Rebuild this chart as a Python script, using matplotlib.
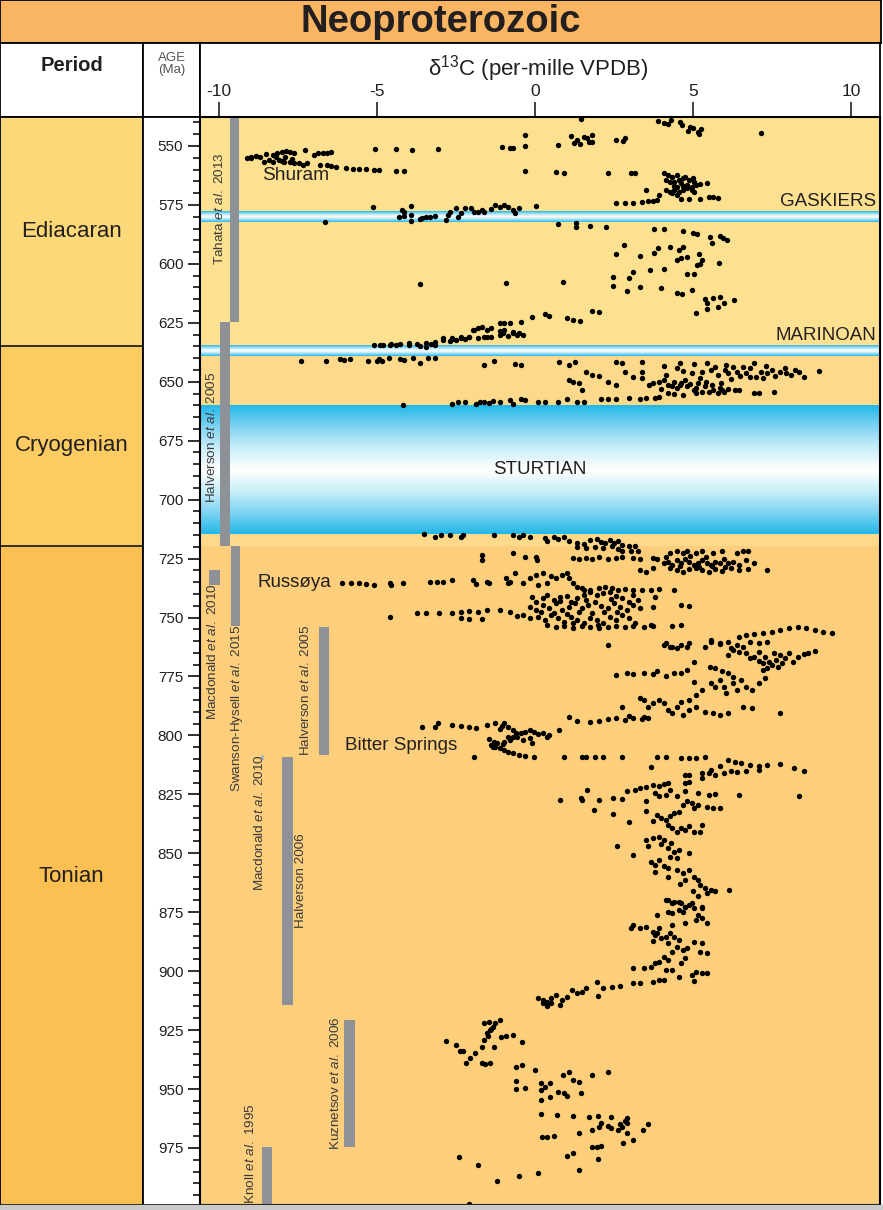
import numpy as np
import matplotlib
matplotlib.use('Agg')
import matplotlib.pyplot as plt
from matplotlib.colors import LinearSegmentedColormap
from matplotlib.patches import Rectangle

plt.rcParams['font.family'] = ['Liberation Sans', 'DejaVu Sans']
plt.rcParams['mathtext.fontset'] = 'custom'
plt.rcParams['mathtext.rm'] = 'Liberation Sans'
plt.rcParams['mathtext.it'] = 'Liberation Sans:italic'

# ---- data: (d13C per-mille, age Ma) ----
edi_top = [(1.46, 538.7), (3.9, 539.5), (4.1, 540.3), (4.3, 539.0), (4.2, 540.6), (4.6, 540.0), (4.65, 541.0),
           (4.9, 541.8), (5.0, 542.5), (4.85, 543.5), (5.15, 543.9), (5.25, 543.0), (5.2, 544.9), (7.15, 544.4),
           (-0.3, 545.3), (-0.3, 550.0), (-1.05, 550.5), (-0.8, 550.8), (-0.7, 550.8), (0.74, 549.6), (1.13, 545.6),
           (1.34, 547.5), (1.54, 546.2), (1.43, 549.3), (1.23, 548.9), (1.71, 548.2), (1.8, 545.3), (1.65, 546.8),
           (1.8, 548.2), (2.55, 547.5), (2.8, 547.7), (2.85, 546.6)]
shuram = [(-9.11, 554.9), (-8.98, 554.5), (-8.84, 554.2), (-8.7, 554.5), (-8.57, 556.6), (-8.43, 555.9),
          (-8.29, 556.6), (-8.16, 553.1), (-8.02, 552.4), (-7.88, 552.0), (-7.75, 552.4), (-7.61, 553.1),
          (-8.11, 555.9), (-7.95, 556.6), (-7.75, 556.6), (-7.61, 557.3), (-7.47, 557.3), (-7.34, 558.1),
          (-7.2, 557.3), (-7.27, 551.7), (-7.0, 553.8), (-6.86, 553.1), (-6.72, 552.8), (-6.58, 552.8),
          (-6.45, 552.4), (-6.79, 558.1), (-6.58, 558.1), (-6.45, 558.5), (-6.31, 558.8), (-5.97, 559.5),
          (-5.77, 559.9), (-5.56, 559.9), (-5.36, 559.9), (-5.08, 560.2), (-4.95, 560.2), (-5.05, 551.4),
          (-4.4, 551.4), (-3.9, 551.7), (-3.06, 551.4), (-4.4, 560.5), (-4.13, 560.5), (-9.0, 555.2),
          (-8.5, 553.5), (-8.3, 553.9), (-7.9, 554.8), (-8.0, 556.2), (-8.2, 554.6), (-7.7, 555.5)]
edi_mid = [(-0.3, 560.6), (0.66, 561.0), (0.93, 561.3), (2.3, 561.3), (3.05, 561.6), (3.16, 561.6),
           (4.07, 561.6), (4.21, 562.3), (4.34, 563.0), (4.48, 562.3), (4.55, 564.4), (4.69, 563.7), (4.75, 563.0),
           (4.89, 564.4), (5.03, 565.1), (4.14, 564.4), (4.28, 565.1), (4.41, 565.1), (4.62, 565.8), (4.82, 566.5),
           (4.96, 567.2), (5.1, 566.5), (5.23, 566.1), (5.44, 565.5), (4.14, 568.7), (4.28, 569.4), (4.41, 568.7),
           (4.55, 569.4), (4.69, 568.7), (4.82, 567.9), (4.96, 568.7), (5.03, 569.4), (3.93, 570.8), (4.34, 570.1),
           (4.48, 570.8), (4.62, 572.6), (4.89, 572.6), (5.23, 572.6), (5.51, 571.5), (5.64, 571.8), (5.78, 572.2),
           (3.5, 568.7), (3.73, 573.2), (3.87, 572.9), (3.59, 573.2), (3.39, 573.6), (3.11, 574.3), (2.84, 574.3),
           (2.57, 574.3), (4.4, 566.8), (4.7, 567.0), (5.0, 563.5), (4.5, 567.5)]
gaskiers_pts = [(-5.12, 575.7), (-4.22, 577.1), (-4.15, 577.8), (-3.92, 575.4), (-4.29, 580.2), (-4.13, 579.7),
                (-3.92, 579.3), (-3.92, 581.8), (-3.65, 581.1), (-3.58, 580.7), (-3.44, 580.2), (-3.31, 580.0),
                (-3.17, 579.7), (-2.83, 581.4), (-2.76, 579.3), (-2.69, 577.8), (-2.49, 576.4), (-2.42, 580.0),
                (-2.35, 578.5), (-2.21, 576.4), (-2.01, 576.4), (-1.94, 577.8), (-1.8, 577.8), (-1.69, 577.1),
                (-1.6, 577.8), (-1.39, 576.9), (-1.26, 575.0), (-1.12, 575.7), (-0.98, 575.0), (-0.85, 575.7),
                (-0.71, 577.1), (-0.64, 578.5), (-0.51, 576.4), (0.04, 575.4), (-6.65, 582.4)]
edi_low = [(0.72, 583.2), (1.31, 582.5), (1.31, 584.5), (1.75, 583.8), (2.24, 584.2), (3.77, 585.3), (4.1, 585.1),
           (4.69, 585.9), (5.0, 586.7), (5.14, 587.3), (5.55, 588.4), (5.85, 588.2), (5.96, 588.9), (6.09, 589.9),
           (5.6, 591.3), (2.81, 592.1), (2.57, 595.8), (3.32, 596.5), (3.77, 595.2), (3.91, 593.4), (4.28, 592.7),
           (4.55, 594.1), (4.48, 598.3), (4.62, 597.6), (4.82, 596.9), (5.14, 600.5), (5.23, 600.0), (5.82, 599.5),
           (3.11, 603.3), (2.98, 606.1), (3.63, 602.6), (4.07, 602.3), (4.82, 604.4), (5.03, 604.4), (2.46, 605.7),
           (2.46, 609.2), (2.91, 611.5), (3.32, 609.6), (4.0, 610.4), (4.48, 612.2), (4.64, 612.9), (4.96, 611.1),
           (5.37, 615.0), (5.44, 616.7), (5.64, 614.6), (5.85, 613.9), (5.98, 616.4), (6.3, 615.3), (5.1, 620.7),
           (5.44, 619.3), (5.78, 618.1), (-0.92, 608.2), (0.9, 607.5), (-3.63, 608.7), (4.7, 593.0), (5.2, 596.0),
           (5.3, 598.5)]
pre_marinoan = [(-0.1, 622.7), (0.31, 621.2), (0.45, 622.1), (1.0, 623.1), (1.2, 623.8), (1.43, 624.2),
                (1.82, 620.0), (2.02, 620.5), (-1.97, 628.0), (-1.8, 627.3), (-1.67, 626.6), (-1.53, 628.0),
                (-1.39, 627.3), (-1.12, 625.2), (-0.98, 625.2), (-0.78, 624.9), (-0.44, 624.5), (-0.98, 628.0),
                (-0.71, 628.7), (-0.51, 629.4), (-0.37, 630.1), (-2.9, 631.6), (-2.62, 631.3), (-2.35, 631.1),
                (-2.08, 630.9), (-1.8, 631.3), (-1.6, 630.9), (-1.39, 630.9), (-1.12, 630.1), (-0.85, 630.6),
                (-5.08, 634.4), (-4.81, 634.4), (-4.54, 634.0), (-4.26, 634.0), (-3.99, 633.7), (-3.72, 634.0),
                (-3.44, 633.4), (-3.17, 633.0), (-2.9, 632.3), (-2.62, 632.0), (-2.35, 631.6), (-2.08, 631.1),
                (-1.53, 630.9), (-0.57, 630.1), (-1.94, 628.0), (-1.12, 628.3), (-3.65, 634.8), (-3.44, 635.1),
                (-3.17, 634.4), (-4.9, 634.6), (-4.6, 634.5), (-4.4, 634.3), (-4.0, 634.2), (-3.3, 633.8),
                (-2.7, 632.8), (-2.5, 632.5), (-2.2, 631.9), (-1.0, 629.5), (-0.7, 629.2)]
cryo_row = [(-7.4, 641.4), (-6.6, 641.4), (-6.17, 640.4), (-6.04, 640.7), (-5.86, 640.3), (-5.29, 641.0),
            (-5.01, 641.4), (-4.95, 640.4), (-4.84, 641.4), (-4.63, 640.0), (-4.26, 640.4), (-4.13, 640.7),
            (-3.85, 640.0), (-3.65, 642.1), (-3.37, 640.0), (-3.17, 640.0), (-1.6, 642.8), (-1.28, 641.4),
            (-0.64, 642.6), (-0.44, 642.7), (0.77, 641.7), (1.07, 643.0), (1.28, 641.6), (2.57, 641.7),
            (2.77, 642.1), (3.39, 641.7), (4.1, 643.3), (4.59, 642.1), (5.03, 642.4), (5.44, 642.1)]
cryo_cluster = [(1.61, 645.7), (1.82, 647.1), (2.02, 647.5), (2.3, 649.9), (2.57, 651.3), (2.84, 645.7),
                (3.39, 645.7), (3.39, 648.5), (3.73, 650.6), (3.93, 649.9), (4.07, 649.2), (4.14, 647.1),
                (4.21, 651.3), (4.34, 652.0), (4.48, 644.3), (4.48, 652.8), (4.62, 650.6), (4.75, 649.2),
                (4.82, 652.0), (4.96, 646.4), (5.03, 653.5), (5.16, 650.6), (5.23, 648.5), (5.37, 652.0),
                (5.51, 654.2), (5.57, 645.0), (5.71, 643.6), (5.78, 647.1), (5.85, 652.8), (5.98, 654.2),
                (6.05, 642.8), (6.12, 646.4), (6.26, 643.6), (6.39, 645.7), (6.46, 653.5), (6.6, 643.6),
                (6.67, 646.4), (6.8, 644.3), (6.94, 642.1), (7.01, 647.8), (7.14, 645.7), (7.21, 648.5),
                (7.35, 646.4), (7.49, 645.0), (7.76, 645.7), (7.96, 646.1), (8.24, 645.0), (8.37, 645.7),
                (8.51, 647.8), (8.99, 645.3), (6.94, 654.9), (7.08, 654.6), (7.55, 654.2), (5.1, 654.9),
                (5.3, 654.2), (5.64, 653.5), (5.78, 654.9), (5.92, 653.7), (6.12, 653.2), (6.33, 653.5),
                (4.69, 655.6), (4.41, 655.2), (4.21, 654.9), (3.93, 656.3), (3.8, 657.0), (3.52, 657.0),
                (3.32, 657.3), (2.98, 656.7), (2.57, 657.3), (2.3, 657.3), (2.09, 657.3), (1.48, 653.5),
                (1.07, 649.2), (1.2, 649.9), (1.41, 650.6), (4.4, 650.0), (4.6, 651.5), (4.9, 651.0),
                (5.1, 652.5), (5.4, 650.0), (5.6, 651.5), (5.9, 650.5), (6.2, 649.0), (6.5, 647.5),
                (6.8, 648.0), (7.3, 643.5), (7.9, 644.0), (6.0, 645.0), (5.3, 646.0), (4.7, 645.5),
                (3.6, 651.5), (4.0, 653.0), (3.1, 648.0), (8.1, 647.0), (7.6, 647.5)]
cryo_low = [(-4.19, 659.8), (-2.62, 659.4), (-2.42, 658.8), (-2.21, 658.4), (-1.87, 659.4), (-1.73, 658.8),
            (-1.6, 658.4), (-1.46, 659.1), (-1.33, 658.0), (-1.12, 658.4), (-0.78, 657.7), (-0.71, 659.4),
            (-0.44, 657.4), (-0.3, 657.7), (0.11, 658.8), (0.31, 658.8), (0.72, 658.8), (1.0, 657.4),
            (1.34, 658.4), (1.54, 658.4)]
ton_top = [(-3.51, 714.5), (-3.17, 716.0), (-2.96, 715.0), (-2.69, 715.0), (-2.35, 716.0), (-2.28, 715.0),
           (-1.28, 715.0), (-0.71, 715.0), (-0.51, 716.0), (-0.37, 715.0), (-0.16, 716.0), (0.31, 716.4),
           (0.38, 717.4), (0.59, 715.7), (0.72, 716.8), (0.93, 715.7), (1.07, 717.4), (1.34, 718.2),
           (1.54, 718.8), (1.75, 717.1), (1.95, 716.8), (2.09, 717.8), (2.23, 718.5), (2.36, 717.1),
           (2.5, 718.2), (2.64, 717.4), (2.77, 719.2), (2.98, 719.6), (3.18, 719.6), (1.34, 719.9),
           (1.61, 720.6), (1.89, 719.9), (2.16, 720.6), (2.43, 719.6), (2.64, 721.0), (2.77, 722.0),
           (3.05, 722.0), (3.25, 721.6), (-1.69, 723.5), (-1.69, 725.6), (-0.71, 722.7), (-0.3, 724.4),
           (0.04, 724.2), (0.08, 725.6), (1.2, 724.9), (1.41, 725.3), (1.61, 724.9), (1.82, 725.3),
           (2.02, 724.4), (2.3, 725.3), (2.57, 724.9), (2.77, 724.4), (3.11, 724.9), (3.32, 725.3),
           (3.73, 724.9), (3.87, 725.3)]
ton_725 = [(4.14, 724.2), (4.28, 722.7), (4.48, 722.0), (4.69, 722.7), (4.82, 721.6), (5.1, 722.7),
           (5.3, 722.0), (5.64, 722.7), (5.92, 722.0), (6.39, 722.5), (6.6, 721.6), (6.73, 722.0),
           (4.07, 727.0), (4.21, 726.3), (4.34, 727.7), (4.48, 725.6), (4.62, 726.7), (4.75, 725.3),
           (4.89, 726.3), (5.03, 727.7), (5.16, 727.0), (5.3, 725.6), (5.44, 726.7), (5.57, 727.7),
           (5.71, 726.3), (5.85, 727.0), (5.98, 725.3), (6.12, 727.0), (6.26, 726.3), (6.46, 727.7),
           (6.67, 725.6), (6.94, 726.7), (4.28, 729.1), (4.48, 729.8), (4.69, 730.5), (4.89, 729.5),
           (5.1, 729.1), (5.3, 729.8), (5.51, 730.5), (5.71, 729.5), (5.92, 730.1), (6.19, 729.1),
           (6.46, 729.8), (6.73, 729.5), (7.35, 729.8), (3.32, 729.8), (3.52, 730.5), (3.73, 729.1),
           (4.6, 728.2), (5.2, 728.5), (5.6, 728.3), (6.0, 728.6), (5.4, 724.5), (4.9, 724.0)]
russoya = [(-6.11, 735.2), (-5.83, 735.5), (-5.56, 735.2), (-5.36, 735.8), (-5.08, 736.2), (-4.6, 735.5),
           (-4.54, 736.2), (-4.19, 735.2), (-3.31, 734.8), (-3.1, 734.8), (-2.9, 734.8), (-2.62, 734.3),
           (-1.97, 734.3), (-1.87, 735.8), (-1.53, 734.8), (-1.46, 735.5), (-0.92, 733.4), (-0.85, 735.5),
           (-0.78, 734.8), (-0.64, 731.2), (-0.37, 735.5), (-0.16, 733.4), (0.04, 732.0), (0.11, 736.2),
           (0.25, 731.2), (0.38, 735.5), (0.52, 732.6), (0.66, 733.4), (0.86, 732.0), (1.0, 731.2),
           (1.07, 733.4), (1.2, 735.5), (1.34, 736.9), (1.48, 737.6), (1.54, 738.3), (1.75, 738.3),
           (2.02, 737.6), (2.23, 736.9), (2.43, 737.6), (2.64, 738.3), (2.84, 738.0), (3.11, 738.3),
           (3.39, 738.3), (3.66, 738.3), (3.93, 738.0), (4.41, 738.3)]
ton_745 = [(-4.6, 749.6), (-3.72, 747.9), (-3.44, 748.2), (-3.03, 748.2), (-2.62, 747.9), (-2.35, 747.5),
           (-2.08, 747.1), (-1.8, 747.5), (-1.53, 746.8), (-1.12, 746.8), (-2.35, 750.3), (-2.08, 750.7),
           (-1.67, 750.7), (-0.1, 741.1), (0.04, 743.3), (0.25, 741.8), (0.38, 740.4), (0.59, 742.5),
           (0.79, 741.4), (1.0, 740.8), (1.13, 743.3), (1.34, 741.8), (1.54, 740.4), (1.75, 739.0),
           (1.95, 740.4), (2.16, 739.7), (2.36, 739.0), (2.57, 740.8), (2.77, 741.8), (2.98, 743.3),
           (3.11, 740.4), (3.25, 742.5), (-0.16, 745.4), (0.04, 746.8), (0.25, 744.7), (0.45, 746.1),
           (0.66, 744.0), (0.86, 746.8), (1.07, 745.7), (1.27, 744.0), (1.48, 746.1), (1.68, 744.7),
           (1.89, 743.3), (2.09, 745.1), (2.3, 746.1), (2.5, 744.0), (2.7, 745.7), (2.91, 746.8),
           (3.11, 744.7), (3.32, 746.1), (-0.37, 748.9), (-0.16, 750.3), (0.11, 749.6), (0.31, 751.0),
           (0.52, 748.9), (0.72, 750.3), (0.93, 751.7), (1.13, 749.6), (1.34, 751.0), (1.54, 752.4),
           (1.75, 750.3), (1.95, 751.0), (2.16, 752.4), (2.36, 749.6), (2.57, 751.0), (2.77, 748.9),
           (2.98, 750.3), (3.18, 752.4), (3.46, 753.9), (3.66, 753.1), (0.38, 753.1), (0.66, 753.9),
           (0.93, 753.6), (1.2, 754.6), (1.48, 753.6), (1.75, 754.1), (2.02, 754.6), (2.3, 753.9),
           (2.57, 753.6), (2.84, 754.1), (3.11, 753.6), (-0.78, 747.5), (-0.57, 749.3), (3.8, 741.4),
           (4.62, 744.6), (4.89, 745.0), (3.73, 745.6), (3.73, 753.6), (4.34, 753.6), (4.62, 753.2),
           (0.2, 747.8), (0.6, 748.0), (1.0, 748.5), (1.4, 747.5), (1.8, 748.2), (2.2, 747.8),
           (2.6, 747.5), (0.8, 743.0), (1.6, 742.5), (2.4, 742.0), (1.2, 752.5), (2.0, 753.0)]
ton_760 = [(4.07, 761.6), (4.28, 762.3), (4.48, 763.0), (4.89, 760.7), (5.57, 759.5), (5.85, 761.2),
           (6.12, 760.2), (6.46, 758.1), (6.67, 757.4), (6.94, 757.0), (7.21, 756.7), (7.49, 756.0),
           (7.76, 755.3), (8.03, 754.6), (8.31, 754.1), (8.58, 754.6), (8.85, 755.3), (9.13, 756.0),
           (9.4, 756.7), (2.3, 761.6), (4.14, 760.9), (4.34, 762.3), (4.62, 761.6), (4.82, 762.6),
           (5.37, 762.3), (5.57, 760.2), (5.85, 760.9), (6.19, 763.0), (6.39, 761.6), (6.6, 762.6),
           (6.8, 760.2), (7.08, 760.9), (7.35, 760.2), (6.12, 765.9), (6.26, 763.7), (6.46, 764.5),
           (6.67, 765.2), (6.8, 767.3), (6.94, 766.6), (7.08, 768.3), (7.21, 769.4), (7.35, 771.5),
           (7.49, 770.1), (7.62, 768.0), (7.76, 765.9), (7.9, 767.3), (8.03, 765.2), (8.17, 768.7),
           (8.31, 766.6), (8.51, 765.4), (8.65, 765.2), (8.85, 764.0), (7.08, 764.5), (7.28, 766.6),
           (7.55, 765.2), (7.83, 769.4), (7.21, 772.2), (7.42, 768.7), (7.69, 770.8)]
ton_780 = [(2.57, 774.4), (2.91, 773.6), (3.11, 773.9), (3.46, 773.6), (3.73, 773.9), (3.87, 772.5),
           (4.14, 774.8), (4.41, 773.4), (4.62, 773.6), (4.82, 772.2), (5.03, 768.7), (5.55, 770.8),
           (5.71, 771.5), (5.92, 772.9), (6.12, 773.6), (6.26, 775.1), (5.85, 776.5), (5.57, 777.9),
           (5.71, 779.3), (5.98, 779.3), (6.26, 777.9), (6.53, 776.5), (6.67, 779.3), (6.87, 780.7),
           (7.08, 777.9), (7.28, 775.8), (6.39, 780.7), (6.05, 782.1), (5.03, 777.2), (5.3, 780.7),
           (5.1, 782.8), (4.89, 785.0), (4.62, 785.7), (4.48, 787.8), (4.21, 789.2), (4.07, 786.4),
           (3.93, 785.0), (3.73, 786.4), (3.59, 787.8), (3.32, 784.3), (3.46, 785.2), (4.89, 789.2),
           (5.1, 787.8), (5.37, 789.9), (5.64, 790.6), (5.85, 791.3), (6.12, 790.6), (6.6, 787.8),
           (6.87, 788.5), (7.76, 790.3), (4.69, 791.3), (4.34, 790.6), (3.46, 792.0), (2.77, 787.8),
           (1.07, 792.0), (1.34, 793.9), (1.75, 794.2), (2.02, 793.7), (2.3, 793.2), (2.57, 792.7),
           (2.84, 793.4), (3.11, 792.7), (3.39, 793.2), (3.59, 792.7), (2.98, 791.7), (0.77, 797.7)]
bitter = [(-3.58, 796.3), (-3.17, 796.6), (-3.06, 794.9), (-2.62, 795.6), (-2.35, 796.0), (-2.08, 796.3),
          (-1.87, 797.0), (-1.53, 795.6), (-1.26, 794.9), (-1.05, 796.0), (-0.85, 796.6), (-0.71, 797.7),
          (-1.12, 797.4), (-0.98, 794.9), (-1.46, 801.6), (-1.39, 804.0), (-1.26, 804.8), (-1.12, 805.5),
          (-0.98, 806.2), (-0.85, 806.9), (-0.71, 807.6), (-0.51, 808.3), (-0.3, 808.7), (-0.03, 809.0),
          (-1.33, 804.8), (-1.19, 803.3), (-0.98, 802.6), (-0.78, 801.9), (-0.57, 800.5), (-0.44, 799.1),
          (-0.3, 798.4), (-0.16, 797.7), (-0.03, 798.4), (0.11, 799.4), (0.25, 799.1), (0.38, 800.5),
          (0.45, 799.8), (-0.16, 801.2), (-0.37, 801.9), (-0.71, 800.5), (-0.85, 800.8), (-0.1, 803.3),
          (-1.94, 809.0), (-1.3, 802.8), (-1.0, 803.8), (-0.6, 799.2)]
ton_810 = [(0.93, 809.0), (1.48, 809.0), (1.61, 809.0), (1.89, 809.0), (2.16, 809.0), (2.77, 809.0),
           (3.87, 809.0), (4.14, 809.0), (4.62, 809.7), (4.89, 809.7), (5.1, 809.7), (5.37, 809.0),
           (3.66, 813.5), (6.12, 810.4), (6.33, 811.1), (6.53, 811.8), (6.8, 812.5), (7.08, 813.2),
           (7.35, 812.5), (7.76, 812.1), (5.85, 813.2), (5.57, 814.7), (5.3, 816.1), (4.89, 816.8),
           (4.75, 816.7), (5.3, 818.1), (5.51, 816.0), (5.71, 816.7), (5.98, 816.0), (6.19, 815.3),
           (6.39, 815.7), (6.67, 815.0), (7.08, 814.6), (8.2, 814.0), (8.5, 815.0), (4.89, 819.6),
           (4.75, 820.3)]
ton_830 = [(0.79, 827.6), (1.45, 826.6), (1.65, 823.1), (1.48, 827.3), (2.02, 827.3), (1.86, 831.6),
           (2.46, 826.6), (2.46, 833.3), (2.77, 827.0), (2.91, 823.8), (3.18, 823.1), (3.32, 822.4),
           (3.52, 821.7), (3.73, 821.0), (3.93, 821.4), (4.07, 820.5), (4.21, 820.3), (3.5, 828.0),
           (3.5, 831.9), (3.8, 824.5), (3.93, 825.9), (4.14, 825.2), (4.28, 823.1), (4.48, 825.9),
           (4.75, 823.4), (5.16, 824.5), (5.51, 825.2), (5.71, 824.8), (6.46, 825.2), (8.37, 825.6),
           (4.69, 829.5), (4.82, 828.0), (4.96, 828.7), (5.03, 830.9), (5.16, 829.5), (5.44, 830.2),
           (5.64, 830.9), (5.85, 830.9), (2.98, 836.9), (3.73, 836.5), (3.87, 833.7), (4.0, 835.1),
           (4.14, 835.8), (4.28, 834.4), (4.41, 833.0), (4.55, 832.3), (4.21, 837.9), (4.34, 839.4),
           (4.48, 840.8), (4.62, 839.4), (4.75, 840.1), (4.89, 838.6), (5.03, 840.8), (5.23, 840.8),
           (5.3, 837.9)]
ton_850 = [(2.6, 846.8), (3.11, 850.7), (3.52, 844.3), (3.59, 847.1), (3.73, 843.6), (3.93, 842.9),
           (4.07, 844.3), (4.21, 847.8), (4.41, 849.3), (4.28, 851.4), (4.55, 848.5), (4.48, 852.1),
           (4.89, 850.0), (3.66, 853.5), (3.8, 854.9), (3.93, 852.8), (4.07, 855.6), (4.21, 856.3),
           (4.48, 857.0), (4.69, 858.4), (4.89, 857.0), (5.03, 859.9), (5.16, 861.3), (4.75, 861.3),
           (4.21, 859.9), (5.23, 863.4), (5.37, 864.8), (5.44, 866.9), (5.57, 865.5), (5.71, 866.2),
           (6.15, 865.5), (5.16, 868.3), (4.14, 869.8), (4.34, 871.2), (4.55, 870.5), (4.75, 872.6),
           (4.96, 871.2), (5.3, 872.6), (4.0, 846.0), (4.3, 845.5), (3.8, 858.0), (4.6, 863.0),
           (5.0, 866.0)]
ton_880 = [(4.21, 869.8), (4.41, 870.5), (4.62, 871.2), (4.75, 872.6), (4.89, 871.9), (4.55, 874.0),
           (4.69, 874.8), (5.03, 873.3), (5.3, 873.3), (5.16, 876.2), (5.3, 877.6), (5.44, 879.7),
           (5.1, 878.3), (4.75, 879.7), (4.34, 875.5), (4.21, 874.8), (3.87, 876.2), (4.34, 880.4),
           (3.11, 880.4), (3.05, 881.8), (3.32, 881.8), (3.52, 881.1), (3.73, 883.2), (3.87, 883.9),
           (3.93, 881.8), (3.8, 884.7), (4.0, 886.1), (4.14, 885.4), (4.28, 883.9), (4.41, 885.4),
           (4.55, 886.8), (3.73, 887.1), (4.21, 888.2), (4.48, 889.6), (4.69, 891.0), (4.82, 890.3),
           (5.03, 887.5), (5.3, 888.2), (5.23, 891.7), (5.44, 892.4), (4.34, 891.7), (4.07, 893.8),
           (4.21, 895.3), (3.93, 896.0), (3.8, 896.7), (3.66, 898.1), (3.46, 898.8), (3.11, 898.8),
           (4.75, 894.5), (4.62, 896.7), (4.14, 899.5), (4.34, 899.5), (4.55, 902.6), (4.96, 901.6),
           (5.1, 900.2), (5.3, 900.6), (5.44, 900.9), (5.03, 904.0), (4.07, 903.7), (3.73, 904.5),
           (3.93, 903.7), (3.32, 905.2), (3.11, 904.9), (2.7, 906.3), (2.43, 906.6), (2.16, 907.3),
           (1.95, 904.5), (1.99, 910.5), (1.61, 907.3), (1.48, 908.7), (1.34, 909.1), (1.17, 908.0),
           (1.0, 910.8), (0.86, 912.2), (0.79, 914.4), (0.66, 910.1), (0.52, 911.5), (0.38, 912.9),
           (0.25, 912.2), (0.11, 911.5), (0.38, 914.8), (0.25, 913.6), (0.52, 913.6)]
ton_930 = [(-2.8, 929.5), (-2.49, 931.3), (-2.38, 933.7), (-2.28, 933.7), (-2.19, 938.8), (-2.05, 937.0),
           (-1.91, 934.9), (-1.69, 932.0), (-1.69, 939.1), (-1.58, 939.4), (-1.42, 938.8), (-1.28, 932.0),
           (-1.6, 929.2), (-1.53, 926.4), (-1.42, 925.0), (-1.33, 923.5), (-1.6, 922.1), (-1.46, 921.4),
           (-1.26, 921.9), (-1.12, 920.7), (-1.09, 928.1), (-0.92, 927.5), (-0.71, 927.1), (-0.41, 929.9),
           (-0.6, 940.5), (-0.41, 939.8), (0.0, 941.9), (-0.6, 946.6), (-0.3, 949.4), (-0.6, 950.0),
           (0.18, 947.6), (0.18, 950.4), (0.31, 949.0), (0.49, 947.6), (0.49, 953.3), (0.72, 951.1),
           (0.93, 951.8), (1.0, 953.0), (0.9, 944.1), (1.09, 942.6), (1.2, 946.2), (1.41, 946.9),
           (1.45, 951.8), (1.82, 944.1), (2.3, 942.6), (0.2, 954.7), (-1.4, 924.5), (-1.5, 927.5)]
ton_960 = [(0.2, 960.7), (0.7, 961.0), (1.2, 961.5), (1.71, 961.7), (1.99, 961.5), (2.4, 962.0),
           (2.09, 964.3), (2.3, 965.7), (2.4, 966.7), (2.64, 967.4), (2.91, 962.4), (2.91, 964.3),
           (2.77, 966.0), (2.91, 968.8), (3.11, 971.6), (3.42, 967.4), (3.59, 965.0), (1.41, 968.8),
           (1.82, 967.4), (2.02, 966.0), (0.22, 970.5), (0.38, 970.2), (0.59, 970.0), (1.82, 974.5),
           (1.95, 974.5), (2.09, 974.2), (2.8, 972.8), (1.2, 977.0), (1.0, 978.4), (1.99, 979.7),
           (-2.39, 978.7), (-1.8, 982.2), (-1.19, 988.9), (-0.51, 986.8), (0.11, 985.8), (1.41, 984.4),
           (-2.08, 998.8), (2.85, 963.5), (2.7, 965.0)]

all_pts = (edi_top + shuram + edi_mid + gaskiers_pts + edi_low + pre_marinoan + cryo_row + cryo_cluster
           + cryo_low + ton_top + ton_725 + russoya + ton_745 + ton_760 + ton_780 + bitter + ton_810
           + ton_830 + ton_850 + ton_880 + ton_930 + ton_960)
d13c = [p[0] for p in all_pts]
age = [p[1] for p in all_pts]

periods = ['Ediacaran', 'Cryogenian', 'Tonian']
period_bounds = [(537.7, 634.8), (634.8, 719.6), (719.6, 1000.0)]
glaciations = [('GASKIERS', 578.0, 582.3), ('MARINOAN', 634.8, 639.1), ('STURTIAN', 660.0, 714.5)]
ref_spans = [(537.7, 624.5), (624.5, 719.6), (729.8, 736.2), (719.6, 753.6), (753.9, 808.3),
             (808.3, 810.5), (809.0, 914.4), (920.7, 974.5), (974.5, 1000.0)]

W, H = 883, 1210
fig = plt.figure(figsize=(W / 100, H / 100), dpi=100)


def px_axes(x0, y0, x1, y1):
    return fig.add_axes([x0 / W, 1 - y1 / H, (x1 - x0) / W, (y1 - y0) / H])


def boxed(a, fc='white'):
    a.set_xticks([])
    a.set_yticks([])
    a.set_facecolor(fc)
    for s in a.spines.values():
        s.set_linewidth(1.3)
    return a


# title
tax = boxed(px_axes(0, 0, 881, 43), '#F9B561')
tax.text(0.5, 0.48, 'Neoproterozoic', ha='center', va='center', fontsize=27.5, fontweight='bold', color='#231F20')

# header row
hp = boxed(px_axes(0, 43, 143, 117))
hp.text(0.5, 0.7, 'Period', ha='center', va='center', fontsize=14.5, fontweight='bold', color='#231F20')
ha_ = boxed(px_axes(143, 43, 200, 117))
ha_.text(0.5, 0.71, 'AGE\n(Ma)', ha='center', va='center', fontsize=9.5, color='#555555', linespacing=1.0)
hd = boxed(px_axes(200, 43, 880, 117))
hd.text(0.497, 0.66, r'δ$^{13}$C (per-mille VPDB)', ha='center', va='center', fontsize=16, color='#231F20')

# period column
pax = boxed(px_axes(0, 117, 143, 1205))
pax.set_xlim(0, 1)
pax.set_ylim(999.2, 537.7)
for name, (a0, a1), c in zip(periods, period_bounds, ['#FBD978', '#FCCB62', '#FBBF52']):
    pax.axhspan(a0, a1, color=c, lw=0)
    pax.axhline(a1, color='#231F20', lw=1.3)
    pax.text(0.5, (a0 + a1) / 2, name, ha='center', va='center', fontsize=16, color='#231F20')

boxed(px_axes(143, 117, 200, 1205))

# main panel
ax = px_axes(200, 117, 880, 1205)
xmin, xmax = -10.6, 10.92
for (a0, a1), c in zip(period_bounds, ['#FDE190', '#FDD98B', '#FDCE7B']):
    ax.axhspan(a0, a1, color=c, lw=0, zorder=0)

ice = LinearSegmentedColormap.from_list('ice', ['#FFFFFF', '#C9EEFA', '#7FD3F2', '#22B8EA'])
for name, top, bot in glaciations:
    grad = np.abs(np.linspace(-1, 1, 256))[:, None]
    ax.imshow(grad, extent=[xmin, xmax, bot, top], cmap=ice, aspect='auto', zorder=1, interpolation='bilinear')

ax.text(10.79, 577.2, 'GASKIERS', ha='right', va='bottom', fontsize=13.5, color='#231F20')
ax.text(10.79, 634.0, 'MARINOAN', ha='right', va='bottom', fontsize=13.5, color='#231F20')
ax.text(0.16, 687.3, 'STURTIAN', ha='center', va='center', fontsize=13.5, color='#231F20')
ax.text(-8.64, 562.7, 'Shuram', ha='left', va='center', fontsize=13.8, color='#231F20')
ax.text(-8.77, 735.0, 'Russøya', ha='left', va='center', fontsize=13.5, color='#231F20')
ax.text(-6.01, 804.3, 'Bitter Springs', ha='left', va='center', fontsize=13.5, color='#231F20')

# reference age bars
bar_x = [(-9.65, -9.37), (-9.97, -9.65), (-10.33, -9.98), (-9.63, -9.32), (-6.84, -6.52),
         (-8.67, -8.59), (-8.0, -7.65), (-6.04, -5.7), (-8.65, -8.32)]
bar_c = ['#8E9196'] * 5 + ['#B3B6BA'] + ['#8E9196'] * 3
for (a0, a1), (x0, x1), c in zip(ref_spans, bar_x, bar_c):
    ax.add_patch(Rectangle((x0, a0), x1 - x0, a1 - a0, color=c, lw=0, zorder=2))

ref_labels = [(r'Tahata $\it{et\ al.}$ 2013', -9.97, 576.5),
              (r'Halverson $\it{et\ al.}$ 2005', -10.25, 673.5),
              (r'Macdonald $\it{et\ al.}$ 2010', -10.19, 764.6),
              (r'Swanson-Hysell $\it{et\ al.}$ 2015', -9.43, 788.5),
              (r'Halverson $\it{et\ al.}$ 2005', -7.25, 780.7),
              (r'Macdonald $\it{et\ al.}$ 2010', -8.73, 837.0),
              ('Halverson 2006', -7.41, 861.5),
              (r'Kuznetsov $\it{et\ al.}$ 2006', -6.3, 947.4),
              (r'Knoll $\it{et\ al.}$ 1995', -8.99, 977.5)]
for txt, x, y in ref_labels:
    ax.text(x, y, txt, rotation=90, ha='center', va='center', fontsize=9.7, color='#3A3A3A', zorder=4)

ax.scatter(d13c, age, s=15, color='black', lw=0, zorder=3)

ax.set_xlim(xmin, xmax)
ax.set_ylim(999.2, 537.7)
ax.xaxis.tick_top()
ax.set_xticks([-10, -5, 0, 5, 10])
ax.set_xticklabels(['-10', '-5', '0', '5', '10'])
ax.tick_params(axis='x', direction='out', length=11, width=1.2, pad=2, labelsize=12.5, colors='#231F20')
ax.set_yticks(np.arange(550, 1000, 25))
ax.set_yticks(np.arange(540, 1000, 5), minor=True)
ax.tick_params(axis='y', which='major', direction='out', length=9, width=1.3, pad=3, labelsize=11,
               colors='#231F20')
ax.tick_params(axis='y', which='minor', direction='out', length=5, width=1.1)
for s in ax.spines.values():
    s.set_linewidth(1.5)

fig.patches.append(Rectangle((0, 0), 1, 5 / H, transform=fig.transFigure, color='#C9C9C9', zorder=10))

plt.savefig('out.png', dpi=100)
